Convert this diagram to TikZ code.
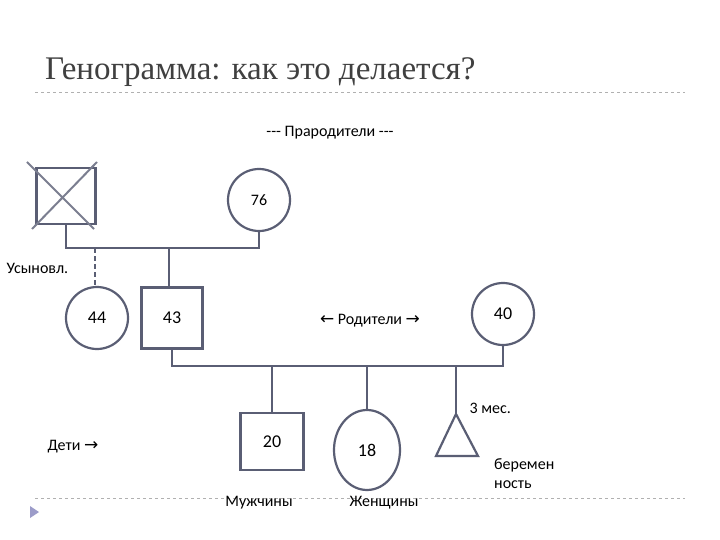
\documentclass[tikz,border=0pt]{standalone}
\usetikzlibrary{shapes.geometric}
\usepackage{fontspec}
\setmainfont{Carlito}
\newfontfamily\titlefont{Liberation Serif}
\newfontfamily\arr{DejaVu Sans}
\newcommand{\rar}{{\arr\fontsize{17}{19}\selectfont →}}
\newcommand{\lar}{{\arr\fontsize{17}{19}\selectfont ←}}
\begin{document}
\begin{tikzpicture}[x=1pt,y=-1pt,
  ln/.style={draw=lc,line width=2.2pt},
  lbl/.style={font=\fontsize{16}{19}\selectfont},
  num/.style={font=\fontsize{18}{20}\selectfont}]
\definecolor{lc}{HTML}{5A5E74}
\definecolor{rule}{HTML}{B0B0B0}
\useasboundingbox (0,0) rectangle (720,540);
\fill[white] (0,0) rectangle (720,540);
\node[anchor=base west,text=black!75,font=\titlefont\fontsize{33}{38}\selectfont,inner sep=0] (title) at (45,80) {Генограмма: как это делается?};
\draw[rule,dashed,line width=0.6pt] (35,92) -- (685,92);
\draw[rule,dashed,line width=0.6pt] (35,498) -- (685,498);
\fill[blue!30!gray!60] (30,506) -- (39,512) -- (30,518) -- cycle;
\node[lbl] (prar) at (330,133) {{-}{-}{-} Прародители {-}{-}{-}};
% grandparents
\node[ln,rectangle,minimum width=59pt,minimum height=56pt,inner sep=0] (gf) at (66,196) {};
\coordinate (c1) at (27,162); \coordinate (c2) at (94,229);
\coordinate (c3) at (97,162); \coordinate (c4) at (32,229);
\draw[draw=lc!80,line width=2pt] (c1) -- (c2) (c3) -- (c4);
\node[ln,circle,minimum size=62pt,inner sep=0,font=\fontsize{16}{18}\selectfont] (gm) at (259,200) {76};
\coordinate (j1) at (66,248); \coordinate (j2) at (259,248);
\draw[ln] (gf.south) -- (j1) -- (j2) -- (gm.south);
% parents
\node[ln,circle,minimum size=62pt,inner sep=0,num] (p44) at (97,318) {44};
\node[ln,rectangle,minimum size=61pt,inner sep=0,num] (p43) at (172,318) {43};
\node[ln,circle,minimum size=62pt,inner sep=0,num] (p40) at (503,314) {40};
\coordinate (j3) at (169,248); \coordinate (j4) at (95,248);
\draw[ln] (j3) -- (p43.north -| j3);
\draw[ln,dashed,dash pattern=on 5pt off 3pt] (j4) -- (p44.north -| j4);
\node[lbl,anchor=west] (us) at (3,268) {Усыновл.};
\node[lbl] (rod) at (370,321) {\lar\ Родители \rar};
\coordinate (h1) at (172,366); \coordinate (h2) at (503,366);
\draw[ln] (p43.south) -- (h1) -- (h2) -- (p40.south);
% children
\node[ln,rectangle,minimum width=63pt,minimum height=57pt,inner sep=0,num] (k20) at (272,441.5) {20};
\node[ln,ellipse,minimum width=66pt,minimum height=80pt,inner sep=0,num] (k18) at (367,450) {18};
\coordinate (ta) at (456,414); \coordinate (tb) at (478,456); \coordinate (tc) at (436,456);
\draw[ln] (ta) -- (tb) -- (tc) -- cycle;
\draw[ln] (272,366) -- (k20.north);
\draw[ln] (367,366) -- (k18.north);
\draw[ln] (456,366) -- (ta);
\node[lbl,anchor=west] (m3) at (466,408) {3 мес.};
\node[lbl,anchor=north west,align=left,inner sep=0] (ber) at (494,458) {беремен\\ность};
\node[lbl,anchor=west] (deti) at (44,447) {Дети \rar};
\node[lbl] (mu) at (259,503) {Мужчины};
\node[lbl] (zh) at (384,503) {Женщины};
\end{tikzpicture}
\end{document}
